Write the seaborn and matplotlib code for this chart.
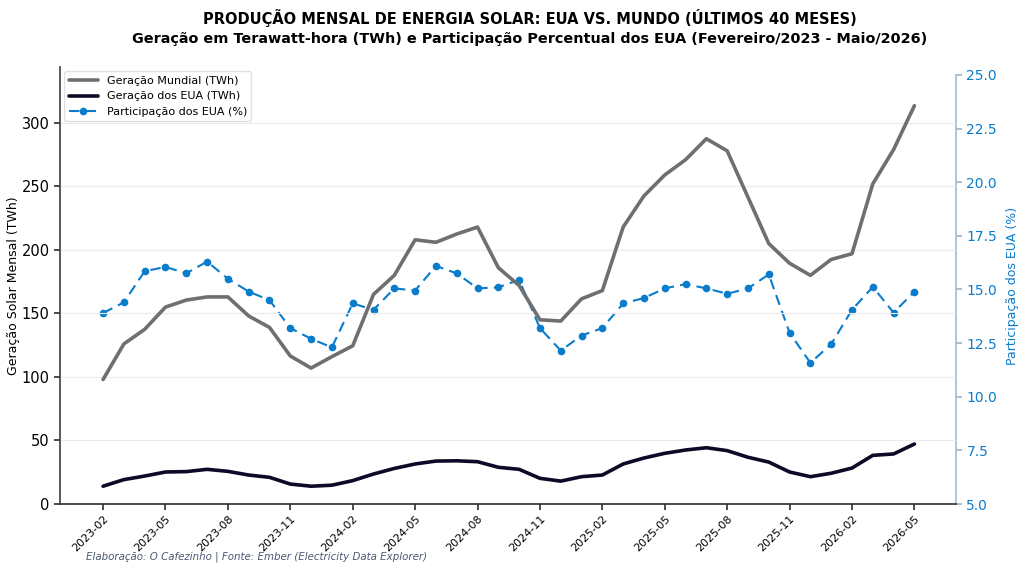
import numpy as np
import pandas as pd
import matplotlib
matplotlib.use("Agg")
import matplotlib.pyplot as plt
import seaborn as sns

months = pd.date_range("2023-02-01", periods=40, freq="MS").strftime("%Y-%m").tolist()

world_twh = [98, 126, 137.5, 155, 160.5, 163, 163, 148, 139, 116.5,
             107, 116, 124.5, 165, 180, 208, 206, 212.5, 218, 186,
             172, 145, 144, 161.5, 168, 218, 242.5, 259, 271, 287.5,
             278, 241.5, 205, 189.5, 180, 192.5, 197, 252, 279, 313.5]

us_twh = [14, 19.2, 22, 25.2, 25.5, 27.3, 25.7, 22.8, 21, 15.7,
          14, 14.8, 18.4, 23.6, 28, 31.5, 33.8, 34, 33.3, 28.9,
          27.3, 20.2, 18, 21.5, 22.8, 31.5, 36.2, 39.9, 42.5, 44.3,
          42, 36.8, 33, 25.2, 21.5, 24.2, 28.3, 38.3, 39.4, 47.2]

us_share = [13.9, 14.4, 15.85, 16.05, 15.75, 16.3, 15.5, 14.9, 14.5, 13.2,
            12.7, 12.3, 14.35, 14.05, 15.05, 14.95, 16.1, 15.75, 15.05, 15.1,
            15.45, 13.2, 12.15, 12.85, 13.2, 14.35, 14.6, 15.05, 15.25, 15.05,
            14.8, 15.05, 15.7, 12.98, 11.58, 12.45, 14.05, 15.12, 13.92, 14.9]

df = pd.DataFrame({"idx": np.arange(len(months)), "month": months,
                   "world": world_twh, "us": us_twh, "share": us_share})

sns.set_theme(style="ticks")
plt.rcParams['font.family'] = ['DejaVu Sans']
plt.rcParams['text.color'] = 'black'
plt.rcParams['axes.labelcolor'] = 'black'
plt.rcParams['xtick.color'] = 'black'
plt.rcParams['ytick.color'] = 'black'

fig = plt.figure(figsize=(10.24, 5.76), dpi=100)
ax = fig.add_axes([0.0586, 0.125, 0.875, 0.7587])
ax2 = ax.twinx()

gray = "#6f6f6f"
navy = "#0b0b28"
blue = "#0a7ccc"

sns.lineplot(data=df, x="idx", y="world", ax=ax, color=gray, lw=2.6,
             label="Geração Mundial (TWh)", legend=False)
sns.lineplot(data=df, x="idx", y="us", ax=ax, color=navy, lw=2.6,
             label="Geração dos EUA (TWh)", legend=False)
sns.lineplot(data=df, x="idx", y="share", ax=ax2, color=blue, lw=1.5,
             linestyle=(0, (5, 3)), marker="o", markersize=5.5,
             markeredgewidth=0, label="Participação dos EUA (%)", legend=False)

ax.set_xlim(-2.07, 41.0)
ax.set_ylim(0, 344)
ax2.set_ylim(5, 25.37)

ticks_idx = list(range(0, 40, 3))
ax.set_xticks(ticks_idx)
ax.set_xticklabels([months[i] for i in ticks_idx], rotation=45, ha="right",
                   rotation_mode="anchor", fontsize=8)
ax.set_yticks([0, 50, 100, 150, 200, 250, 300])
ax.tick_params(axis="y", labelsize=10.5, length=4, color="#333333")
ax.tick_params(axis="x", length=4, color="#333333", pad=3)
ax.set_xlabel("")
ax.set_ylabel("Geração Solar Mensal (TWh)", fontsize=9, labelpad=1)

ax.yaxis.grid(True, color="#ebebeb", lw=0.8)
ax.set_axisbelow(True)
ax.spines["top"].set_visible(False)
ax.spines["right"].set_visible(False)
ax.spines["left"].set_color("#444444")
ax.spines["bottom"].set_color("#333333")

ax2.set_yticks([5, 7.5, 10, 12.5, 15, 17.5, 20, 22.5, 25])
ax2.set_yticklabels([f"{v:.1f}" for v in [5, 7.5, 10, 12.5, 15, 17.5, 20, 22.5, 25]])
ax2.tick_params(axis="y", labelsize=10, labelcolor=blue, color="#9fb8cc", length=4)
ax2.set_ylabel("Participação dos EUA (%)", fontsize=9, color=blue, labelpad=6)
ax2.spines["top"].set_visible(False)
ax2.spines["left"].set_visible(False)
ax2.spines["bottom"].set_visible(False)
ax2.spines["right"].set_color("#a8bfd2")
ax2.spines["right"].set_bounds(5, 25)

h1, l1 = ax.get_legend_handles_labels()
h2, l2 = ax2.get_legend_handles_labels()
leg = ax.legend(h1 + h2, l1 + l2, loc="upper left", fontsize=8,
                frameon=True, framealpha=1, edgecolor="#e0e0e0",
                borderaxespad=0.4, handlelength=2.6)
leg.set_zorder(10)
ax.set_zorder(ax2.get_zorder() + 1)
ax.patch.set_visible(False)

fig.text(0.5176, 0.968, "PRODUÇÃO MENSAL DE ENERGIA SOLAR: EUA VS. MUNDO (ÚLTIMOS 40 MESES)",
         ha="center", va="center", fontsize=10.5, fontweight="bold", color="black")
fig.text(0.5176, 0.932, "Geração em Terawatt-hora (TWh) e Participação Percentual dos EUA (Fevereiro/2023 - Maio/2026)",
         ha="center", va="center", fontsize=10.4, fontweight="bold", color="black")
fig.text(0.084, 0.034, "Elaboração: O Cafezinho | Fonte: Ember (Electricity Data Explorer)",
         ha="left", va="center", fontsize=7.4, style="italic", color="#4a5872")

fig.savefig("out.png", dpi=100, facecolor="white")
